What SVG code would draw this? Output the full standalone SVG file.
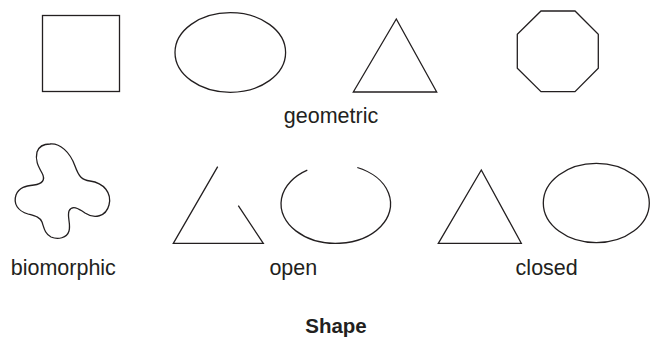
<svg xmlns="http://www.w3.org/2000/svg" width="650" height="337" viewBox="0 0 650 337">
<style>
.s{fill:none;stroke:#231f20;stroke-width:1.3;stroke-linejoin:miter}
.t{font-family:"Liberation Sans",Arial,sans-serif;font-size:21.5px;fill:#231f20;text-anchor:middle}
.b{font-weight:bold;font-size:20.5px}
</style>
<rect width="650" height="337" fill="#fff"/>
<g id="square"><rect class="s" x="42.5" y="15.5" width="77" height="76"/></g>
<g id="ellipse"><ellipse class="s" cx="230.3" cy="52.5" rx="55.3" ry="39.8"/></g>
<g id="triangle"><polygon class="s" points="396.3,19 353.3,92 436.7,92"/></g>
<g id="octagon"><polygon class="s" points="541,11 575,11 598.3,34.3 598.3,68.3 575,91.7 541,91.7 517.3,68.3 517.3,34.3"/></g>
<g id="label-geometric"><text class="t" x="331" y="122.7">geometric</text></g>
<g id="biomorphic"><path class="s" d="M50 144 C60 143,70 152,75 166 C79 177,82 180,90 181 C104 183,112 193,109 205 C106 217,94 219,85 213 C78 208,72 205,69 211 C67 217,71 224,69 231 C67 238,58 240,51 237 C45 234,44 228,42 222 C40 217,35 216,28 214 C18 211,13 204,16 195 C19 187,26 186,34 185 C42 184,46 180,42 173 C38 166,35 160,37 152 C39 146,44 144,50 144 Z"/></g>
<g id="label-biomorphic"><text class="t" x="63.3" y="275">biomorphic</text></g>
<g id="open-triangle"><polyline class="s" points="217.7,166.7 173.3,243.3 263.3,243.3 238.3,205.7"/></g>
<g id="open-ellipse"><path class="s" d="M307.3 170.1 A54.8 39.5 0 1 0 357.3 167.5"/></g>
<g id="label-open"><text class="t" x="293.3" y="275">open</text></g>
<g id="closed-triangle"><polygon class="s" points="481.3,170 438.3,243.3 521.3,243.3"/></g>
<g id="closed-ellipse"><ellipse class="s" cx="596.3" cy="203" rx="53" ry="39.7"/></g>
<g id="label-closed"><text class="t" x="546.7" y="275">closed</text></g>
<g id="title"><text class="t b" x="336" y="333">Shape</text></g>
<g id="connectors"></g>
</svg>
